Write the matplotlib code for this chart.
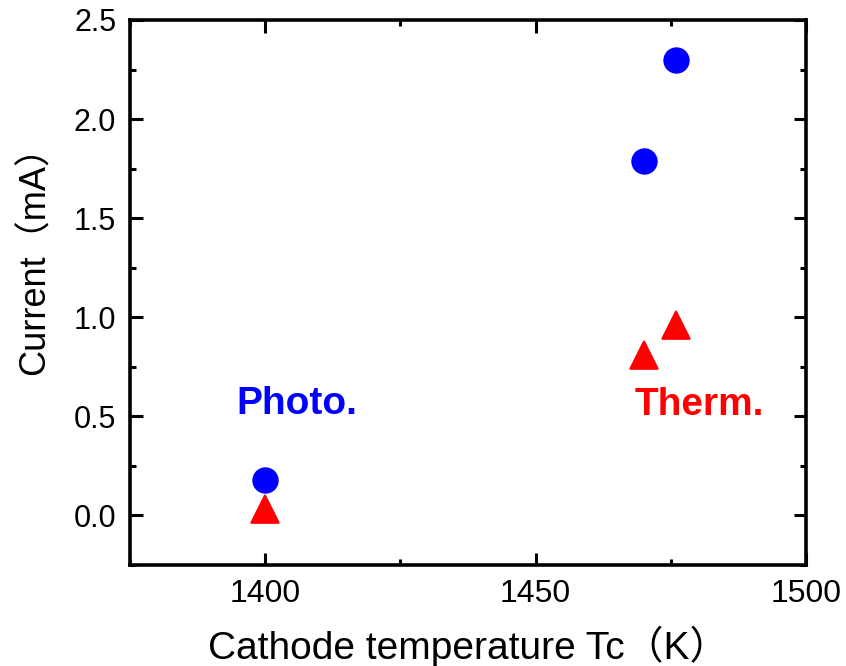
import matplotlib
matplotlib.use("Agg")
import matplotlib.pyplot as plt
from matplotlib.ticker import MultipleLocator

# cathode temperature (K) and measured currents (mA)
temp_photo = [1400, 1470, 1476]
current_photo = [0.18, 1.79, 2.30]
temp_therm = [1400, 1470, 1476]
current_therm = [0.03, 0.81, 0.96]

x_ticks = [1400, 1450, 1500]
y_ticks = [0.0, 0.5, 1.0, 1.5, 2.0, 2.5]

plt.rcParams['font.family'] = ['Liberation Sans', 'Noto Sans CJK JP']

fig = plt.figure(figsize=(8.46, 6.66), dpi=100)
ax = fig.add_axes([0.1537, 0.1517, 0.7990, 0.8183])

ax.plot(temp_photo, current_photo, 'o', color='#0000ff', ms=19, mec='none',
        zorder=3)
therm, = ax.plot(temp_therm, current_therm, '^', color='#ff0000', ms=20,
                 mew=1.2, mec='#ff0000', mfc='#ff0000', zorder=3)
therm.set_solid_joinstyle('round')

ax.text(1405.9, 0.56, 'Photo.', color='#0000ff', fontsize=28,
        fontweight='bold', ha='center', va='center')
ax.text(1480.3, 0.555, 'Therm.', color='#ff0000', fontsize=28,
        fontweight='bold', ha='center', va='center')

ax.set_xlim(1375, 1500)
ax.set_ylim(-0.25, 2.5)
ax.set_xticks(x_ticks)
ax.set_yticks(y_ticks)
ax.set_yticklabels([f'{v:.1f}' for v in y_ticks])
ax.xaxis.set_minor_locator(MultipleLocator(25))
ax.yaxis.set_minor_locator(MultipleLocator(0.25))

for side in ax.spines.values():
    side.set_linewidth(2.6)
ax.tick_params(which='both', direction='in', top=True, right=True, width=2.2)
ax.tick_params(which='major', length=9)
ax.tick_params(which='minor', length=4.5)
ax.tick_params(axis='x', which='major', labelsize=23, pad=10)
ax.tick_params(axis='y', which='major', labelsize=22, pad=10)

ax.set_xlabel('Cathode temperature Tc\uff08K\uff09', fontsize=28, labelpad=12)
ax.set_ylabel('Current\uff08mA\uff09', fontsize=26)
ax.yaxis.set_label_coords(-0.115, 0.575)

fig.savefig('out.png', dpi=100)
